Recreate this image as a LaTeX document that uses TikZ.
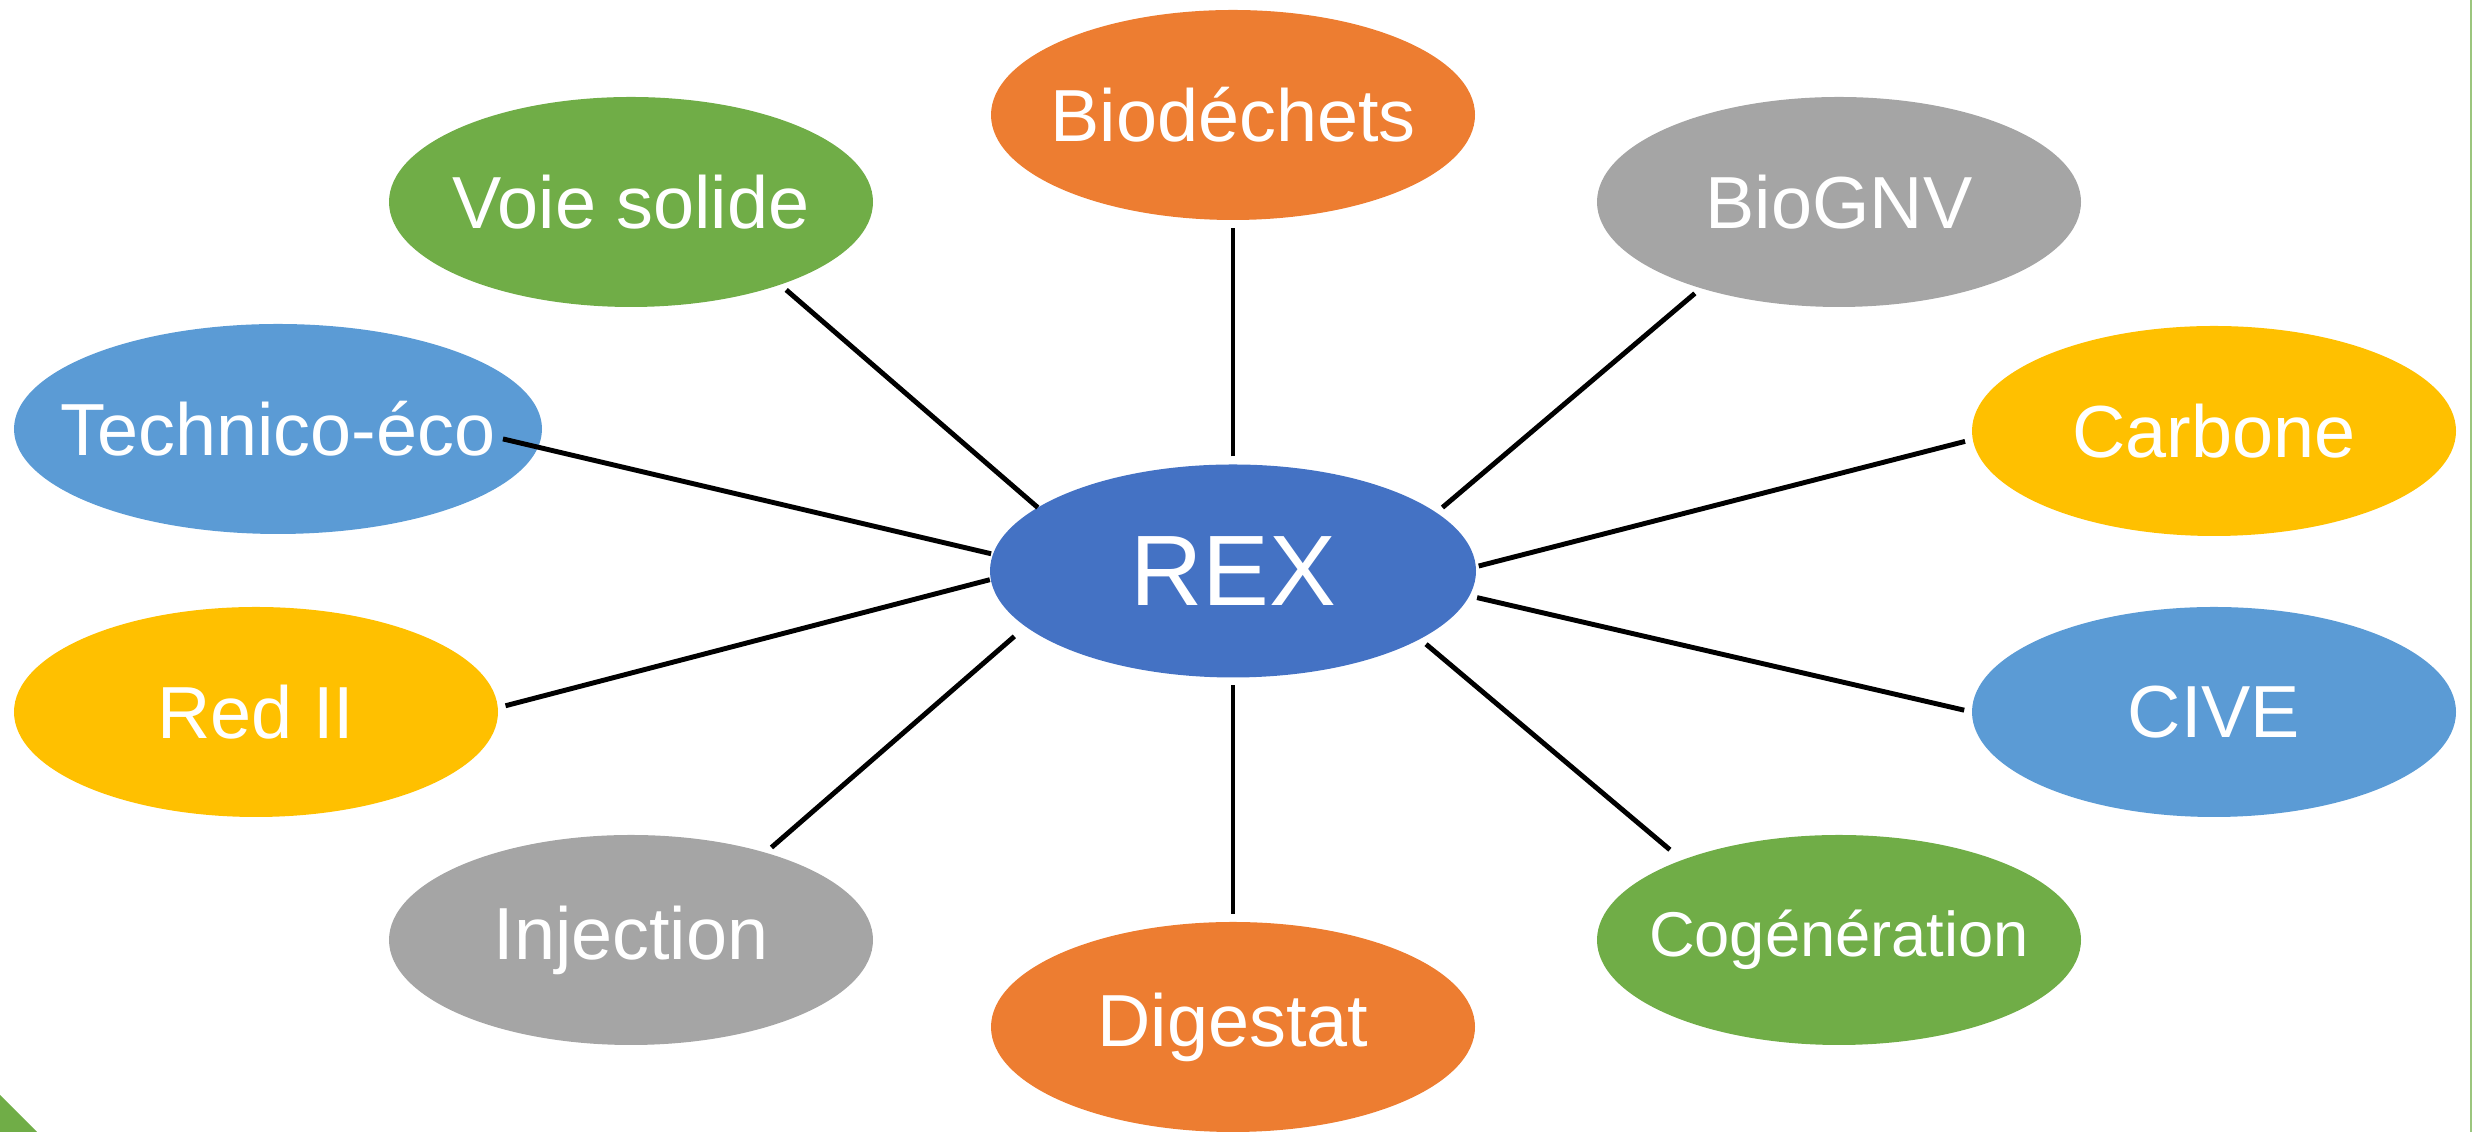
\documentclass[tikz,border=0pt]{standalone}
\usepackage{fontspec}
\setmainfont{Liberation Sans}
\usetikzlibrary{shapes.geometric}
\definecolor{rexblue}{HTML}{4472C4}
\definecolor{skyblue}{HTML}{5B9BD5}
\definecolor{orng}{HTML}{ED7D31}
\definecolor{gry}{HTML}{A5A5A5}
\definecolor{gold}{HTML}{FFC000}
\definecolor{leaf}{HTML}{70AD47}
\newcommand{\bubtext}[1]{\makebox[0pt]{#1}}

\begin{document}
\begin{tikzpicture}[bubble/.style = {ellipse, minimum width=4.84cm, minimum height=2.1cm, inner sep=0pt, outer sep=0pt, text=white, font=\fontsize{21}{25}\selectfont}, link/.style = {line width=1.4pt, shorten <=0.08cm, shorten >=0.08cm}]
    \useasboundingbox (0,0) rectangle (24.73,11.32);
    \fill[leaf] (0,0) -- (0.37,0) -- (0,0.37) -- cycle;
    \draw[leaf!70, line width=0.6pt] (24.71,0) -- (24.71,11.32);
    \node at (12.33,5.61) [bubble, fill=rexblue, minimum width=4.86cm, minimum height=2.13cm, font=\fontsize{28.5}{34}\selectfont] (rex) {\bubtext{REX}};
    \node at (12.33,10.17) [bubble, fill=orng] (bio) {\bubtext{Biodéchets}};
    \node at (6.31,9.30) [bubble, fill=leaf] (voie) {\bubtext{Voie solide}};
    \node at (18.39,9.30) [bubble, fill=gry] (gnv) {\bubtext{BioGNV}};
    \node at (2.78,7.03) [bubble, fill=skyblue, minimum width=5.28cm] (tech) {\bubtext{Technico-éco}};
    \node at (22.14,7.01) [bubble, fill=gold] (carb) {\bubtext{Carbone}};
    \node at (2.56,4.20) [bubble, fill=gold] (red) {\bubtext{Red II}};
    \node at (22.14,4.20) [bubble, fill=skyblue] (cive) {\bubtext{CIVE}};
    \node at (6.31,1.92) [bubble, fill=gry] (inj) {\bubtext{Injection}};
    \node at (18.39,1.92) [bubble, fill=leaf, font=\fontsize{18}{22}\selectfont] (cog) {\bubtext{Cogénération}};
    \node at (12.33,1.05) [bubble, fill=orng] (dig) {\bubtext{Digestat}};
    \draw[link] (rex.90) -- (bio.-90);
    \draw[link, shorten <=0pt] (rex.162) -- (voie.-29);
    \draw[link] (rex.16) -- (gnv.-148);
    \draw[link, shorten <=0.02cm, shorten >=-0.36cm] (rex.176) -- (tech.-4);
    \draw[link, shorten <=0.03cm] (rex.1) -- (carb.182);
    \draw[link, shorten <=0.01cm] (rex.182) -- (red.1);
    \draw[link] (rex.-6.5) -- (cive.180);
    \draw[link, shorten <=0.15cm] (rex.195.6) -- (inj.33);
    \draw[link, shorten >=0.16cm] (rex.-20) -- (cog.153);
    \draw[link] (rex.-90) -- (dig.90);
\end{tikzpicture}
\end{document}
